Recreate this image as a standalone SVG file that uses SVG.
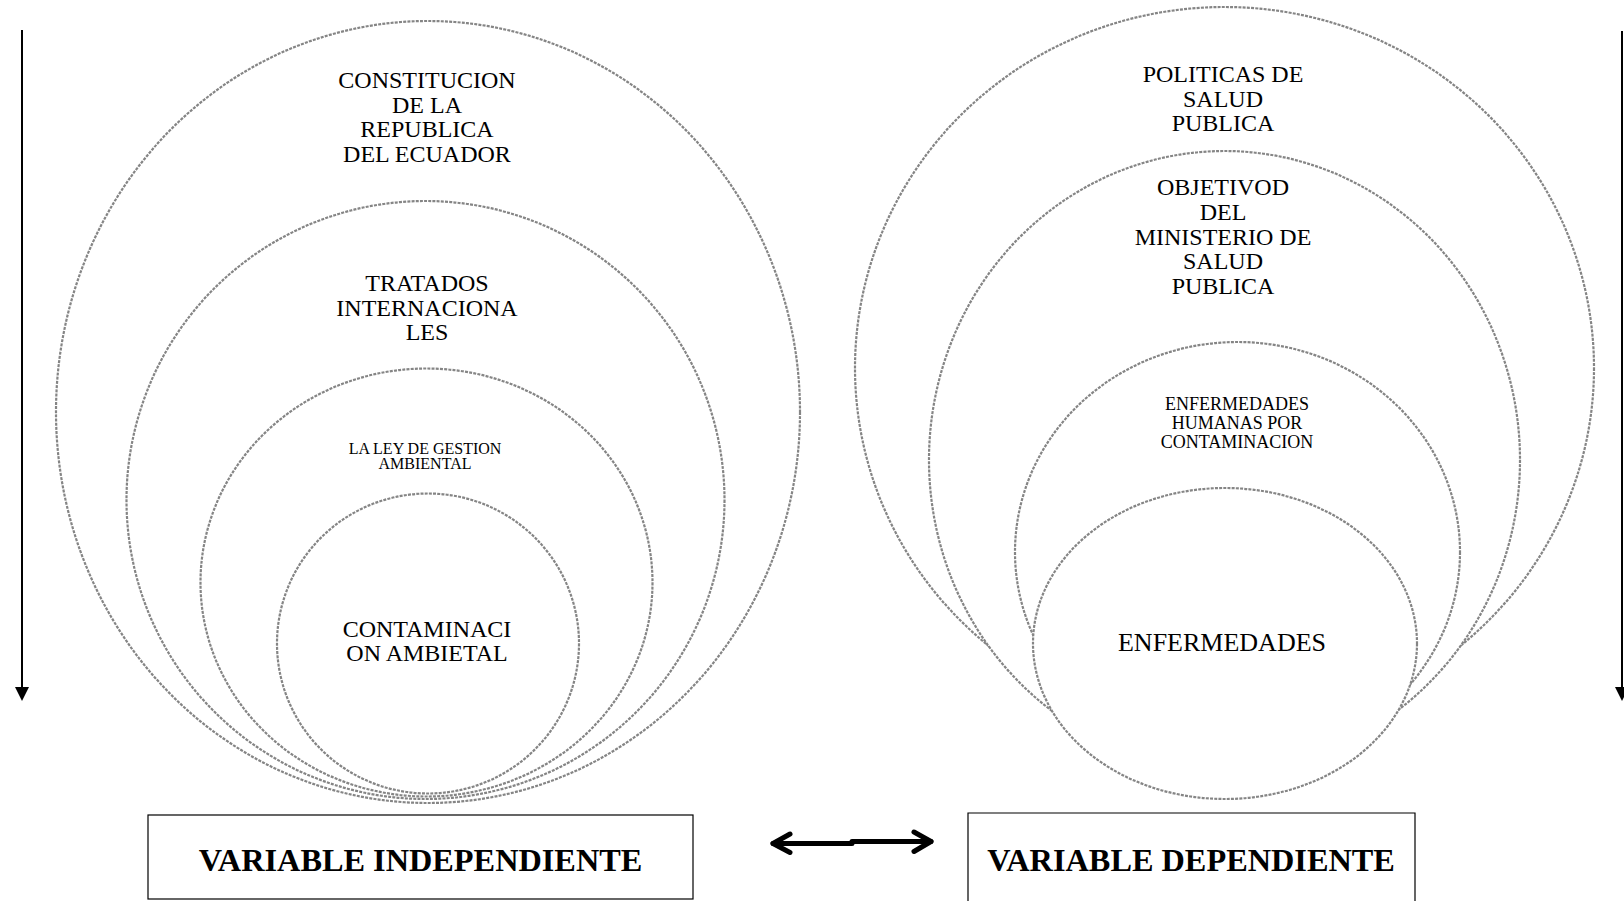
<svg xmlns="http://www.w3.org/2000/svg" width="1624" height="901" viewBox="0 0 1624 901">
<style>
  .c { fill: #fff; stroke: #858585; stroke-width: 2.2; stroke-dasharray: 3 1.2; }
  .t { font-family: "Liberation Serif", "Times New Roman", serif; fill: #000; text-anchor: middle; }
  .big { font-size: 24px; }
  .sm { font-size: 16px; }
  .md { font-size: 18px; }
  .lbl { font-family: "Liberation Serif", "Times New Roman", serif; font-weight: bold; font-size: 32.3px; text-anchor: middle; fill: #000; }
  .box { fill: #fff; stroke: #000; stroke-width: 1.2; }
  .conn { stroke: #000; fill: none; }
</style>
<rect width="1624" height="901" fill="#fff"/>

<g id="n-constitucion">
  <ellipse class="c" cx="428" cy="412" rx="372" ry="391"/>
  <text class="t big" x="427" y="88">CONSTITUCION</text>
  <text class="t big" x="427" y="112.5">DE LA</text>
  <text class="t big" x="427" y="137">REPUBLICA</text>
  <text class="t big" x="427" y="161.5">DEL ECUADOR</text>
</g>
<g id="n-tratados">
  <ellipse class="c" cx="425.5" cy="500" rx="299" ry="299"/>
  <text class="t big" x="427" y="291">TRATADOS</text>
  <text class="t big" x="427" y="315.5">INTERNACIONA</text>
  <text class="t big" x="427" y="340">LES</text>
</g>
<g id="n-ley">
  <ellipse class="c" cx="426.5" cy="582.5" rx="226" ry="214"/>
  <text class="t sm" x="425" y="454">LA LEY DE GESTION</text>
  <text class="t sm" x="425" y="469">AMBIENTAL</text>
</g>
<g id="n-contaminacion">
  <ellipse class="c" cx="428" cy="643.5" rx="151" ry="150"/>
  <text class="t big" x="427" y="637">CONTAMINACI</text>
  <text class="t big" x="427" y="661">ON AMBIETAL</text>
</g>

<g id="n-politicas">
  <ellipse class="c" cx="1224.5" cy="368" rx="369.5" ry="361"/>
  <text class="t big" x="1223" y="82">POLITICAS DE</text>
  <text class="t big" x="1223" y="106.5">SALUD</text>
  <text class="t big" x="1223" y="131">PUBLICA</text>
</g>
<g id="n-objetivos">
  <ellipse class="c" cx="1224.5" cy="460" rx="295.5" ry="309"/>
  <text class="t big" x="1223" y="195">OBJETIVOD</text>
  <text class="t big" x="1223" y="220">DEL</text>
  <text class="t big" x="1223" y="244.5">MINISTERIO DE</text>
  <text class="t big" x="1223" y="269">SALUD</text>
  <text class="t big" x="1223" y="294">PUBLICA</text>
</g>
<g id="n-enf-humanas">
  <ellipse class="c" cx="1237.5" cy="552" rx="222.5" ry="210"/>
  <text class="t md" x="1237" y="410">ENFERMEDADES</text>
  <text class="t md" x="1237" y="429">HUMANAS  POR</text>
  <text class="t md" x="1237" y="448">CONTAMINACION</text>
</g>
<g id="n-enfermedades">
  <ellipse class="c" cx="1225" cy="643.5" rx="192" ry="155.5"/>
  <text class="t" x="1222" y="651" font-size="26">ENFERMEDADES</text>
</g>

<g id="n-var-indep">
  <rect class="box" x="148" y="815" width="545" height="84"/>
  <text class="lbl" x="420.5" y="871">VARIABLE INDEPENDIENTE</text>
</g>
<g id="n-var-dep">
  <path class="box" d="M968 903 V813 H1415 V903"/>
  <text class="lbl" x="1191" y="871">VARIABLE DEPENDIENTE</text>
</g>

<g id="connectors">
  <line class="conn" x1="22" y1="30" x2="22" y2="690" stroke-width="2"/>
  <polygon points="15,687 29,687 22,701" fill="#000"/>
  <line class="conn" x1="1622" y1="31" x2="1622" y2="690" stroke-width="2"/>
  <polygon points="1615,687 1629,687 1622,701" fill="#000"/>
  <g stroke-linecap="round" stroke-linejoin="round" stroke-width="5" stroke="#000" fill="none">
    <path d="M773 843.5 H852 M852 841.5 H931"/>
    <path d="M790 834 L773 843.5 L790 852.5"/>
    <path d="M914 832 L931 841.5 L914 851.5"/>
  </g>
</g>
</svg>
